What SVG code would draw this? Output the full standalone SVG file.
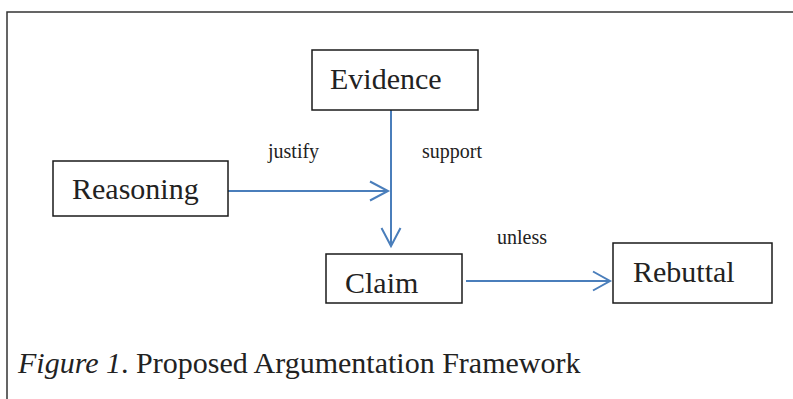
<svg xmlns="http://www.w3.org/2000/svg" width="793" height="399" viewBox="0 0 793 399">
<style>
.box{fill:#fff;stroke:#1a1a1a;stroke-width:1.5}
.t{font-family:"Liberation Serif","Times New Roman",serif;fill:#222}
.big{font-size:30px}
.small{font-size:20px}
.conn{stroke:#4a7ebb;stroke-width:2;fill:none}
.frame{stroke:#333;stroke-width:1.5;fill:none}
</style>
<rect width="793" height="399" fill="#fff"/>
<path class="frame" d="M7,399 V12 H793"/>
<g id="connectors">
<path class="conn" d="M391,110 V246"/>
<path class="conn" d="M381.5,228 L391,246 L400.5,228"/>
<path class="conn" d="M228,191 H388"/>
<path class="conn" d="M370,181.5 L388,191 L370,200.5"/>
<path class="conn" d="M466,281 H610"/>
<path class="conn" d="M593,271.5 L610,281 L593,290.5"/>
<text class="t small" x="268" y="158">justify</text>
<text class="t small" x="422" y="158">support</text>
<text class="t small" x="497" y="244">unless</text>
</g>
<g id="evidence">
<rect class="box" x="312" y="50" width="166" height="60"/>
<text class="t big" x="330" y="89">Evidence</text>
</g>
<g id="reasoning">
<rect class="box" x="53" y="161" width="175" height="55"/>
<text class="t big" x="72" y="199">Reasoning</text>
</g>
<g id="claim">
<rect class="box" x="326" y="254" width="136" height="49"/>
<text class="t big" x="345" y="293">Claim</text>
</g>
<g id="rebuttal">
<rect class="box" x="613" y="243" width="159" height="60"/>
<text class="t big" x="633" y="282">Rebuttal</text>
</g>
<text class="t big" x="18" y="373"><tspan font-style="italic">Figure 1</tspan>. Proposed Argumentation Framework</text>
</svg>
